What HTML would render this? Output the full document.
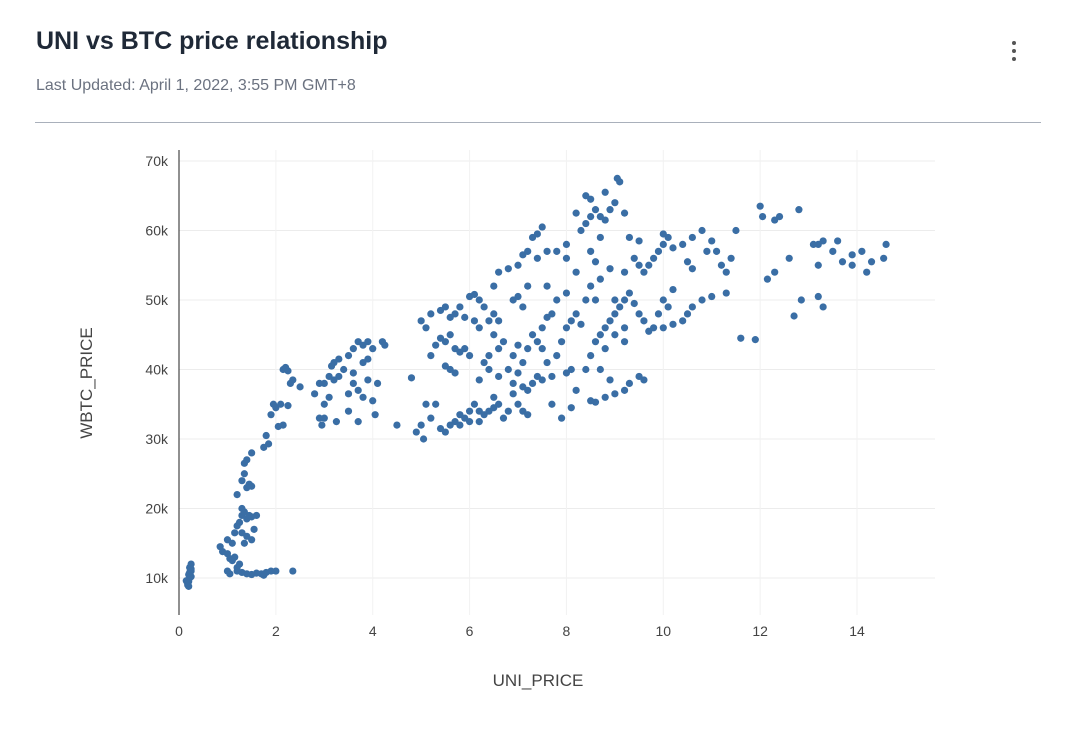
<!DOCTYPE html>
<html><head><meta charset="utf-8"><style>
body{margin:0;background:#fff;font-family:"Liberation Sans",sans-serif;width:1072px;height:734px;overflow:hidden;position:relative}
.title{position:absolute;left:36px;top:27px;font-size:25px;color:#1f2937;font-weight:600}
.sub{position:absolute;left:36px;top:77px;font-size:16px;color:#6b7280}
.hr{position:absolute;left:35px;top:122px;width:1006px;height:1px;background:#a9b0bb}
.menu{position:absolute;left:1006px;top:38px;width:16px;height:28px;cursor:pointer}
.menu i{display:block;width:4px;height:4px;border-radius:2px;background:#555;margin:3px auto 4px}
svg{position:absolute;left:0;top:0}
</style></head><body>
<div class="title">UNI vs BTC price relationship</div>
<div class="sub">Last Updated: April 1, 2022, 3:55 PM GMT+8</div>
<div class="hr"></div>
<div class="menu"><i></i><i></i><i></i></div>
<svg id="chart" width="1072" height="734"></svg>
<script>
const xTicks=[0,2,4,6,8,10,12,14];
const yTicks=[10,20,30,40,50,60,70];
const yTickLabels=["10k","20k","30k","40k","50k","60k","70k"];
const uniPrice=[0.18,0.2,0.22,0.2,0.25,0.22,0.25,0.2,0.15,0.25,0.22,0.25,0.18,0.85,0.9,1.0,1.05,1.1,1.0,1.05,1.2,1.3,1.4,1.5,1.6,1.7,1.8,1.9,2.0,1.75,2.35,1.15,1.25,1.2,1.0,1.1,1.15,1.2,1.25,1.3,1.35,1.3,1.4,1.45,1.5,1.55,1.4,1.3,1.35,1.5,1.45,1.4,1.3,1.35,1.4,1.5,1.35,1.5,1.2,1.6,1.75,1.85,1.8,1.9,2.0,1.95,2.1,2.15,2.05,2.25,2.15,2.2,2.25,2.3,2.35,2.5,2.8,2.9,2.95,3.0,3.1,3.0,3.1,3.2,3.3,3.4,3.2,3.3,3.5,3.6,3.7,3.8,3.9,4.0,4.2,4.25,3.9,3.6,3.7,3.5,3.8,3.9,4.0,4.05,3.7,3.25,3.0,3.5,4.5,4.1,3.6,3.15,2.9,3.8,4.8,4.9,5.05,5.0,5.2,5.3,5.4,5.5,5.6,5.7,5.8,5.9,6.0,6.1,6.0,6.2,6.3,6.4,6.5,6.6,6.5,6.7,6.8,7.0,7.1,7.2,6.9,5.1,5.8,6.2,5.0,5.1,5.2,5.4,5.5,5.6,5.7,5.8,6.0,6.1,6.2,6.3,6.4,6.5,6.6,5.5,5.6,5.7,5.8,5.9,6.0,5.4,5.3,5.2,6.1,6.2,5.9,5.5,5.6,5.7,6.5,6.6,6.8,7.0,7.1,7.2,7.3,7.4,7.5,7.4,7.6,7.8,8.0,7.2,7.0,7.1,6.9,6.5,6.6,6.7,6.4,6.3,6.2,6.4,6.6,6.8,6.9,7.0,7.1,7.2,7.3,7.4,7.5,7.6,7.7,7.5,7.6,7.7,7.3,7.4,7.1,7.2,6.9,7.0,7.5,7.8,7.9,8.0,8.1,8.2,8.3,8.0,8.1,8.2,7.9,7.7,8.1,8.5,8.6,8.8,9.0,9.2,9.3,9.5,9.6,8.9,8.7,8.4,8.5,8.6,8.7,8.8,8.9,9.0,9.1,9.2,9.3,9.4,9.5,9.6,9.7,9.8,9.9,10.0,10.1,10.2,10.0,10.2,10.4,10.6,10.8,11.0,11.3,10.5,9.2,9.0,8.8,9.5,9.6,9.7,9.8,9.9,10.0,10.1,10.2,10.4,10.6,10.8,11.0,11.1,11.2,11.3,11.4,10.5,10.6,10.9,11.5,9.3,9.5,10.0,9.4,8.4,8.5,8.6,8.7,8.8,8.9,9.0,9.05,9.1,8.4,8.5,8.8,8.2,8.3,8.7,8.0,8.5,8.6,8.9,9.2,8.5,8.7,9.2,8.2,8.4,8.6,9.0,9.2,8.0,7.6,7.8,11.6,11.9,12.0,12.05,12.3,12.4,12.8,12.6,12.3,12.15,12.7,12.85,13.2,13.2,13.3,13.5,13.6,13.7,13.9,13.9,14.1,14.2,14.3,14.55,14.6,13.2,13.3,13.1];
const wbtcPrice=[9,9.5,10,10.5,11,11.5,12,8.8,9.6,10.2,10.8,11.3,9.2,14.5,13.8,13.5,12.8,12.5,11,10.6,11,10.8,10.6,10.5,10.7,10.6,10.8,11,11,10.4,11,13,12,11.5,15.5,15,16.5,17.5,18,19,19.5,20,18.5,19,18.8,17,16,16.5,15,15.5,23.5,23,24,25,27,28,26.5,23.2,22,19,28.8,29.3,30.5,33.5,34.5,35,35,32,31.8,34.8,40,40.3,39.8,38,38.5,37.5,36.5,33,32,35,36,38,39,38.5,39,40,41,41.5,42,43,44,43.5,44,43,44,43.5,41.5,38,37,36.5,36,38.5,35.5,33.5,32.5,32.5,33,34,32,38,39.5,40.5,38,41,38.8,31,30,32,33,35,31.5,31,32,32.5,32,33,34,35,32.5,34,33.5,34,34.5,35,36,33,34,35,34,33.5,36.5,35,33.5,32.5,47,46,48,48.5,49,47.5,48,49,50.5,50.8,50,49,47,48,47,44,45,43,42.5,43,42,44.5,43.5,42,47,46,47.5,40.5,40,39.5,52,54,54.5,55,56.5,57,59,59.5,60.5,56,57,57,56,52,50.5,49,50,45,43,44,42,41,38.5,40,39,40,42,43.5,41,43,45,44,46,47.5,48,43,41,39,38,39,37.5,37,38,39.5,38.5,42,44,46,47,48,46.5,39.5,40,37,33,35,34.5,35.5,35.3,36,36.5,37,38,39,38.5,38.5,40,40,42,44,45,46,47,48,49,50,51,49.5,48,47,45.5,46,48,50,49,51.5,46,46.5,47,49,50,50.5,51,48,44,45,43,55,54,55,56,57,58,59,57.5,58,59,60,58.5,57,55,54,56,55.5,54.5,57,60,59,58.5,59.5,56,61,62,63,62,61.5,63,64,67.5,67,65,64.5,65.5,62.5,60,59,58,57,55.5,54.5,54,52,53,62.5,54,50,50,50,46,51,52,50,44.5,44.3,63.5,62,61.5,62,63,56,54,53,47.7,50,55,58,58.5,57,58.5,55.5,55,56.5,57,54,55.5,56,58,50.5,49,58];
const NS="http://www.w3.org/2000/svg";
const svg=document.getElementById('chart');
const X0=179,PX=48.43,Y10=578,PY=6.95;
const xs=v=>X0+v*PX, ys=v=>Y10-(v-10)*PY;
function mk(t,a){const e=document.createElementNS(NS,t);for(const k in a)e.setAttribute(k,a[k]);svg.appendChild(e);return e;}
yTicks.forEach((t,i)=>{
 const l=mk('line',{x1:179,x2:935,y1:ys(t),y2:ys(t),stroke:'#ececec','stroke-width':1});
 
 
 const tx=mk('text',{x:168,y:ys(t)+5,'text-anchor':'end','font-size':14,fill:'#444','font-family':'Liberation Sans, sans-serif'});
 tx.textContent=yTickLabels[i];
 
 
});
xTicks.forEach(t=>{
 if(t>0){const l=mk('line',{x1:xs(t),x2:xs(t),y1:150,y2:615,stroke:'#f2f2f2','stroke-width':1});
 
 }
 const tx=mk('text',{x:xs(t),y:636,'text-anchor':'middle','font-size':14,fill:'#444','font-family':'Liberation Sans, sans-serif'});
 tx.textContent=t;
 
 
});
const zl=mk('line',{x1:179,x2:179,y1:150,y2:615,stroke:'#222','stroke-width':1});


uniPrice.forEach((v,i)=>{
 const c=mk('circle',{cx:xs(v),cy:ys(wbtcPrice[i]),r:3.6,fill:'#3a6ea5'});
 
 
});
const xt=mk('text',{x:538,y:686,'text-anchor':'middle','font-size':17,fill:'#444','font-family':'Liberation Sans, sans-serif'});
xt.textContent='UNI_PRICE';


const yt=mk('text',{x:0,y:0,'text-anchor':'middle','font-size':17,fill:'#444','font-family':'Liberation Sans, sans-serif',transform:'translate(92,383) rotate(-90)'});
yt.textContent='WBTC_PRICE';


</script>
</body></html>
